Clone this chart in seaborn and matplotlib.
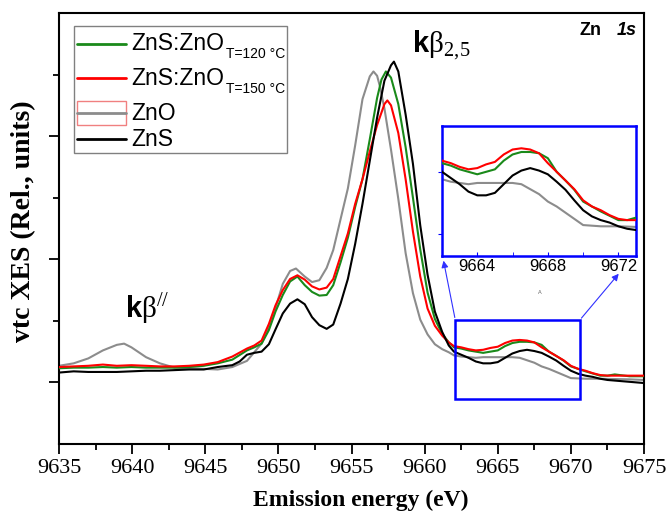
import matplotlib
matplotlib.use("Agg")
import matplotlib.pyplot as plt
import seaborn as sns
from matplotlib.lines import Line2D
from matplotlib.patches import Rectangle
from matplotlib.offsetbox import AnchoredOffsetbox, VPacker, HPacker, TextArea, DrawingArea
from matplotlib.ticker import MultipleLocator, FixedLocator

# ZnO reference
e_zno = [9635, 9636, 9637, 9638, 9638.95, 9639.45, 9639.95, 9640.95, 9641.9, 9642.9,
         9643.9, 9644.9, 9645.85, 9646.85, 9647.85, 9648.85, 9649.35, 9649.8, 9650.3, 9650.8,
         9651.2, 9651.8, 9652.3, 9652.8, 9653.3, 9653.75, 9654.25, 9654.75, 9655.25, 9655.75,
         9656.25, 9656.5, 9656.75, 9656.95, 9657.25, 9657.7, 9658.2, 9658.7, 9659.2, 9659.7,
         9660.2, 9660.7, 9661.2, 9661.65, 9662, 9662.5, 9663, 9663.5, 9664, 9665,
         9666, 9666.5, 9667, 9667.5, 9668, 9668.5, 9669, 9669.5, 9670, 9670.5,
         9671, 9672, 9673, 9674, 9675]
zno = [1.27, 1.31, 1.39, 1.52, 1.61, 1.63, 1.57, 1.41, 1.31, 1.24,
       1.23, 1.22, 1.21, 1.25, 1.35, 1.63, 1.89, 2.21, 2.60, 2.81,
       2.85, 2.72, 2.63, 2.66, 2.86, 3.15, 3.65, 4.15, 4.85, 5.60,
       5.97, 6.05, 5.98, 5.80, 5.45, 4.78, 3.98, 3.10, 2.45, 2.02,
       1.78, 1.62, 1.54, 1.49, 1.44, 1.42, 1.41, 1.40, 1.41, 1.41,
       1.41, 1.40, 1.36, 1.32, 1.26, 1.22, 1.17, 1.12, 1.07, 1.065,
       1.06, 1.06, 1.055, 1.05, 1.04]

# ZnS:ZnO, T = 120 C
e_120 = [9635, 9636, 9637, 9638, 9638.95, 9639.95, 9640.95, 9641.9, 9642.9, 9643.9,
         9644.9, 9645.85, 9646.85, 9647.85, 9648.35, 9648.85, 9649.35, 9649.8, 9650.3, 9650.8,
         9651.3, 9651.8, 9652.3, 9652.8, 9653.3, 9653.75, 9654.25, 9654.75, 9655.25, 9655.75,
         9656.25, 9656.75, 9657.05, 9657.35, 9657.7, 9658.2, 9658.7, 9659.2, 9659.7, 9660.2,
         9660.7, 9661.2, 9661.65, 9662, 9662.5, 9663, 9663.5, 9664, 9664.5, 9665,
         9665.5, 9666, 9666.5, 9667, 9667.5, 9668, 9668.5, 9669, 9669.5, 9670,
         9670.5, 9671, 9671.5, 9672, 9672.5, 9673, 9674, 9675]
t120 = [1.23, 1.24, 1.24, 1.25, 1.24, 1.25, 1.24, 1.24, 1.24, 1.25,
        1.27, 1.31, 1.37, 1.52, 1.57, 1.63, 1.85, 2.15, 2.42, 2.64,
        2.72, 2.58, 2.47, 2.41, 2.42, 2.58, 2.95, 3.35, 3.85, 4.30,
        4.95, 5.62, 5.92, 6.05, 5.95, 5.52, 4.82, 4.00, 3.16, 2.46,
        2.03, 1.79, 1.65, 1.57, 1.55, 1.52, 1.50, 1.48, 1.50, 1.52,
        1.59, 1.64, 1.66, 1.66, 1.65, 1.61, 1.50, 1.43, 1.355, 1.26,
        1.22, 1.18, 1.145, 1.11, 1.11, 1.13, 1.10, 1.10]

# ZnS:ZnO, T = 150 C
e_150 = [9635, 9636, 9637, 9638, 9638.95, 9639.95, 9640.95, 9641.9, 9642.9, 9643.9,
         9644.9, 9645.85, 9646.85, 9647.85, 9648.35, 9648.85, 9649.35, 9649.8, 9650.3, 9650.8,
         9651.3, 9651.8, 9652.3, 9652.8, 9653.3, 9653.75, 9654.25, 9654.75, 9655.25, 9655.75,
         9656.25, 9656.75, 9657.25, 9657.45, 9657.7, 9658.2, 9658.7, 9659.2, 9659.7, 9660.2,
         9660.7, 9661.2, 9661.65, 9662, 9662.5, 9663, 9663.5, 9664, 9664.5, 9665,
         9665.5, 9666, 9666.5, 9667, 9667.5, 9668, 9668.5, 9669, 9669.5, 9670,
         9670.5, 9671, 9671.5, 9672, 9672.5, 9673, 9674, 9675]
t150 = [1.25, 1.26, 1.27, 1.29, 1.27, 1.28, 1.27, 1.26, 1.26, 1.27,
        1.29, 1.33, 1.42, 1.55, 1.60, 1.68, 1.95, 2.25, 2.50, 2.68,
        2.74, 2.67, 2.56, 2.51, 2.54, 2.68, 3.05, 3.42, 3.90, 4.30,
        4.75, 5.18, 5.52, 5.58, 5.50, 5.05, 4.30, 3.45, 2.72, 2.20,
        1.92, 1.76, 1.65, 1.59, 1.57, 1.54, 1.52, 1.53, 1.56, 1.58,
        1.64, 1.68, 1.69, 1.68, 1.65, 1.57, 1.50, 1.43, 1.36, 1.27,
        1.22, 1.19, 1.15, 1.12, 1.11, 1.11, 1.11, 1.11]

# ZnS reference
e_zns = [9635, 9636, 9637, 9638, 9638.95, 9639.95, 9640.95, 9641.9, 9642.9, 9643.9,
         9644.9, 9645.85, 9646.85, 9647.35, 9647.85, 9648.35, 9648.85, 9649.35, 9649.8, 9650.3,
         9650.8, 9651.3, 9651.8, 9652.3, 9652.8, 9653.3, 9653.75, 9654.25, 9654.75, 9655.25,
         9655.75, 9656.25, 9656.75, 9657.25, 9657.7, 9657.9, 9658.2, 9658.7, 9659.2, 9659.7,
         9660.2, 9660.7, 9661.2, 9661.65, 9662, 9662.5, 9663, 9663.5, 9664, 9664.5,
         9665, 9665.5, 9666, 9666.5, 9667, 9667.5, 9668, 9668.5, 9669, 9669.5,
         9670, 9670.5, 9671, 9671.5, 9672, 9672.5, 9673, 9674, 9675]
zns = [1.16, 1.18, 1.17, 1.17, 1.17, 1.18, 1.19, 1.19, 1.20, 1.21,
       1.21, 1.25, 1.28, 1.34, 1.45, 1.48, 1.50, 1.62, 1.86, 2.12,
       2.28, 2.35, 2.27, 2.06, 1.93, 1.87, 1.94, 2.28, 2.68, 3.25,
       3.90, 4.60, 5.30, 5.90, 6.15, 6.21, 6.05, 5.35, 4.55, 3.55,
       2.75, 2.15, 1.82, 1.60, 1.50, 1.45, 1.40, 1.34, 1.31, 1.31,
       1.33, 1.40, 1.47, 1.51, 1.53, 1.51, 1.48, 1.42, 1.355, 1.27,
       1.19, 1.14, 1.11, 1.09, 1.06, 1.04, 1.03, 1.01, 0.99]

names = ["ZnS:ZnO", "ZnS:ZnO", "ZnO", "ZnS"]
subscripts = ["T=120 °C", "T=150 °C", None, None]
colors = {"zno": "#8c8c8c", "t120": "#1a8a1a", "t150": "#ff0000", "zns": "black"}

sns.set_style("ticks", {"axes.edgecolor": "black", "xtick.color": "black",
                        "ytick.color": "black", "text.color": "black",
                        "axes.labelcolor": "black"})
plt.rcParams["font.family"] = ["Liberation Serif", "DejaVu Serif"]
plt.rcParams["mathtext.fontset"] = "custom"
plt.rcParams["mathtext.rm"] = "Liberation Serif"
plt.rcParams["mathtext.sf"] = "Liberation Sans"
plt.rcParams["mathtext.bf"] = "Liberation Sans:bold"

fig = plt.figure(figsize=(6.7, 5.17), dpi=100)
ax = fig.add_axes([0.0881, 0.1412, 0.8731, 0.8337])

series = [(e_zno, zno, colors["zno"], 2), (e_120, t120, colors["t120"], 3),
          (e_150, t150, colors["t150"], 4), (e_zns, zns, colors["zns"], 5)]
for e, v, c, z in series:
    sns.lineplot(x=e, y=v, ax=ax, color=c, linewidth=1.5, estimator=None,
                 sort=False, legend=False, zorder=z)

ax.set_xlim(9635, 9675)
ax.set_ylim(0, 7)
ax.xaxis.set_major_locator(MultipleLocator(5))
ax.xaxis.set_minor_locator(MultipleLocator(2.5))
ax.yaxis.set_major_locator(FixedLocator([1, 3, 5]))
ax.yaxis.set_minor_locator(FixedLocator([2, 4, 6]))
ax.tick_params(which="major", direction="out", length=7, width=1.3, labelsize=16)
ax.tick_params(which="minor", direction="out", length=4, width=1.3)
ax.tick_params(axis="y", labelleft=False)
for s in ax.spines.values():
    s.set_linewidth(1.5)
    s.set_visible(True)

ax.set_xlabel("Emission energy (eV)", fontsize=17, fontweight="bold")
ax.set_ylabel("vtc XES (Rel., units)", fontsize=20, fontweight="bold")
ax.xaxis.set_label_coords(0.515, -0.107)
ax.yaxis.set_label_coords(-0.04, 0.517)

ax.text(9659.15, 6.36, r"$\mathbf{k}\mathrm{\beta}_{\mathrm{2,\!5}}$", fontsize=21)
ax.text(9639.5, 2.06, r"$\mathbf{k}\mathrm{\beta}^{\mathrm{//}}$", fontsize=21)
ax.text(0.928, 0.949, "Zn", transform=ax.transAxes, ha="right",
        family="Liberation Sans", weight="bold", size=13)
ax.text(0.988, 0.949, "1s", transform=ax.transAxes, ha="right",
        family="Liberation Sans", weight="bold", style="italic", size=13)

# zoom box
ax.add_patch(Rectangle((9662.1, 0.73), 8.5, 1.28, fill=False,
                       edgecolor="#0000ff", linewidth=1.8, zorder=6))


# legend, built from packers so the small subscripts can sit low after "ZnS:ZnO"
def px(v):
    return v * 0.72


def key(color, boxed=False):
    da = DrawingArea(px(49), px(21.6), 0, 0)
    y0 = px(10.3)
    if boxed:
        da.add_artist(Rectangle((0, y0 - px(12)), px(49), px(24), facecolor="none",
                                edgecolor="#f08080", lw=1))
    da.add_artist(Line2D([0, px(49)], [y0, y0], color=color, lw=2))
    return da


main_tp = dict(family="Liberation Sans", size=16.5, color="black")
sub_tp = dict(family="Liberation Sans", size=10, color="black")
key_colors = [colors["t120"], colors["t150"], colors["zno"], colors["zns"]]
rows = [DrawingArea(1, px(1), 0, 0)]
for name, sub, c in zip(names, subscripts, key_colors):
    label = [TextArea(name, textprops=main_tp)]
    if sub:
        label.append(VPacker(children=[DrawingArea(1, px(14.6), 0, 0),
                                       TextArea(sub, textprops=sub_tp),
                                       DrawingArea(1, px(3), 0, 0)],
                             align="left", pad=0, sep=0))
    text_box = HPacker(children=label, align="top", pad=0, sep=px(1))
    rows.append(HPacker(children=[key(c, boxed=(name == "ZnO")), text_box],
                        align="top", pad=0, sep=px(6)))
legend_box = AnchoredOffsetbox(loc="upper left",
                               child=VPacker(children=rows, align="left", pad=0, sep=px(3.0)),
                               pad=0.18, borderpad=0, frameon=True,
                               prop=dict(size=10),
                               bbox_to_anchor=(0.0256, 0.970), bbox_transform=ax.transAxes)
legend_box.patch.set_boxstyle("square", pad=0)
legend_box.patch.set_edgecolor("#808080")
legend_box.patch.set_linewidth(1)
legend_box.set_zorder(10)
ax.add_artist(legend_box)

# inset
axin = fig.add_axes([0.6597, 0.5048, 0.2896, 0.2515])
for e, v, c, z in series:
    sns.lineplot(x=e, y=v, ax=axin, color=c, linewidth=1.5, estimator=None,
                 sort=False, legend=False, zorder=z)
axin.set_xlim(9662, 9673)
axin.set_ylim(0.82, 1.87)
axin.set_xticks([9664, 9668, 9672])
axin.set_xticks([9666, 9670], minor=True)
axin.set_yticks([1.0, 1.5])
axin.tick_params(axis="x", which="both", direction="in", length=3, color="#0000ff",
                 labelsize=12, pad=2)
axin.tick_params(axis="y", direction="out", length=3, color="#0000ff", labelleft=False)
for lab in axin.get_xticklabels():
    lab.set_family("Liberation Sans")
for s in axin.spines.values():
    s.set_color("#0000ff")
    s.set_linewidth(1.8)

arrow = dict(arrowstyle="-|>", color="#3030ff", lw=0.8, mutation_scale=10)
ax.annotate("", xy=(0.005, -0.015), xycoords=axin.transAxes,
            xytext=(9662.1, 2.01), textcoords="data", arrowprops=arrow)
ax.annotate("", xy=(0.92, -0.12), xycoords=axin.transAxes,
            xytext=(9670.6, 2.01), textcoords="data", arrowprops=arrow)

fig.text(540 / 670, 1 - 292 / 517, "A", fontsize=4, color="#666666",
         ha="center", va="center", family="Liberation Sans")

fig.savefig("out.png", dpi=100)
